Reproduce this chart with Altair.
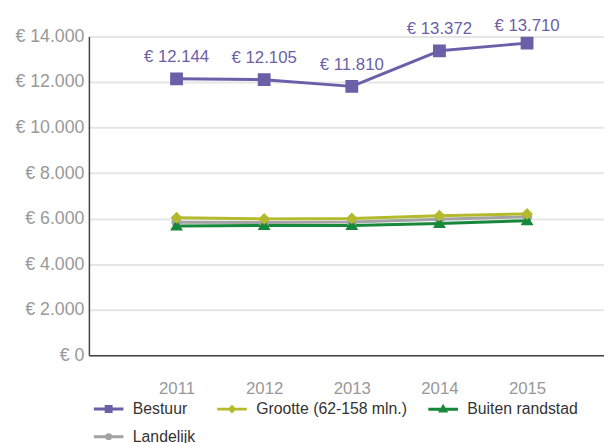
import altair as alt
import pandas as pd

# ---- data ----
years = [2011, 2012, 2013, 2014, 2015]
series_names = ["Bestuur", "Grootte (62-158 mln.)", "Buiten randstad", "Landelijk"]
bestuur = [12144, 12105, 11810, 13372, 13710]
grootte = [6040, 5990, 6010, 6130, 6210]
buiten = [5680, 5700, 5700, 5790, 5910]
landelijk = [5840, 5830, 5850, 5970, 6080]
y_ticks = [0, 2000, 4000, 6000, 8000, 10000, 12000, 14000]

colors = ["#6b5fa8", "#b4ba2b", "#17873b", "#a3a3a3"]
# symbol = a line segment (drawn only where stroked, i.e. in the legend)
# plus the filled marker of the series
seg = "M-1.5,0H1.5"
shapes = [
    seg + "M-0.25,-0.25H0.25V0.25H-0.25Z",
    seg + "M0,-0.23L0.23,0L0,0.23L-0.23,0Z",
    seg + "M0,-0.25L0.25,0.18L-0.25,0.18Z",
    seg + "M-0.2,0A0.2,0.2 0 1,0 0.2,0A0.2,0.2 0 1,0 -0.2,0Z",
]

series_values = {
    "Landelijk": landelijk,
    "Buiten randstad": buiten,
    "Grootte (62-158 mln.)": grootte,
    "Bestuur": bestuur,
}
rows = []
for name, vals in series_values.items():
    for yr, v in zip(years, vals):
        rows.append({"series": name, "year": yr, "value": v,
                     "label": "€ " + f"{v:,}".replace(",", ".")})
df = pd.DataFrame(rows)

FONT = "Liberation Sans"

def make_legend():
    return alt.Legend(
        title=None, orient="none", direction="horizontal", legendX=8.5, legendY=366,
        columns=3, columnPadding=15, rowPadding=8, symbolSize=400, symbolStrokeWidth=3,
        symbolOpacity=1, labelFontSize=16, labelFont=FONT, labelColor="#333333",
        labelOffset=13, labelLimit=400, padding=0,
    )

color_scale = alt.Scale(domain=series_names, range=colors)

x_enc = alt.X(
    "year:Q",
    scale=alt.Scale(domain=[2010, 2015.878], nice=False, zero=False),
    axis=alt.Axis(values=years, format="d", title=None, grid=False, ticks=False,
                  tickSize=0, labelPadding=26, labelFontSize=17, labelColor="#999999",
                  labelFont=FONT, domainColor="#444444", domainWidth=1.5),
)
y_scale = alt.Scale(domain=[0, 14000], nice=False)
y_enc = alt.Y(
    "value:Q",
    scale=y_scale,
    axis=alt.Axis(values=y_ticks, title=None, grid=True, gridColor="#e6e6e6",
                  gridWidth=2, ticks=False, tickSize=0, labelPadding=5,
                  labelFontSize=18, labelColor="#999999", labelFont=FONT,
                  labelExpr="'€ ' + replace(format(datum.value, ','), ',', '.')",
                  domainColor="#444444", domainWidth=1.5),
)

lines = alt.Chart(df).mark_line(strokeWidth=3, strokeJoin="round").encode(
    x=x_enc, y=y_enc,
    color=alt.Color("series:N", scale=color_scale, legend=make_legend()),
    detail="series:N",
)
points = alt.Chart(df).mark_point(filled=True, opacity=1, size=2704).encode(
    x=x_enc, y=y_enc,
    fill=alt.Fill("series:N", scale=color_scale, legend=make_legend()),
    stroke=alt.Stroke("series:N", scale=color_scale, legend=make_legend()),
    shape=alt.Shape("series:N", scale=alt.Scale(domain=series_names, range=shapes),
                    legend=make_legend()),
    # markers in the plot are not stroked, so the legend line segment stays hidden there
    strokeWidth=alt.StrokeWidth("year:Q", scale=alt.Scale(range=[0, 0]), legend=None),
)
# data labels are kept inside the chart near the top (as the original does)
labels = alt.Chart(df).transform_filter(
    alt.datum.series == series_names[0]
).transform_calculate(
    anchor="min(datum.value, 13500)"
).mark_text(dy=-17, baseline="alphabetic", align="center", fontSize=17,
            font=FONT, color=colors[0]).encode(
    x=x_enc, y=alt.Y("anchor:Q", scale=y_scale), text="label:N"
)

chart = alt.layer(lines, points, labels).properties(
    width=522, height=323,
    padding={"left": 82, "top": 26, "right": 0, "bottom": 86},
    autosize=alt.AutoSizeParams(type="none"),
).configure_view(stroke="transparent").configure(font=FONT)

chart.save("out.html", embed_options={"renderer": "svg", "actions": False})
